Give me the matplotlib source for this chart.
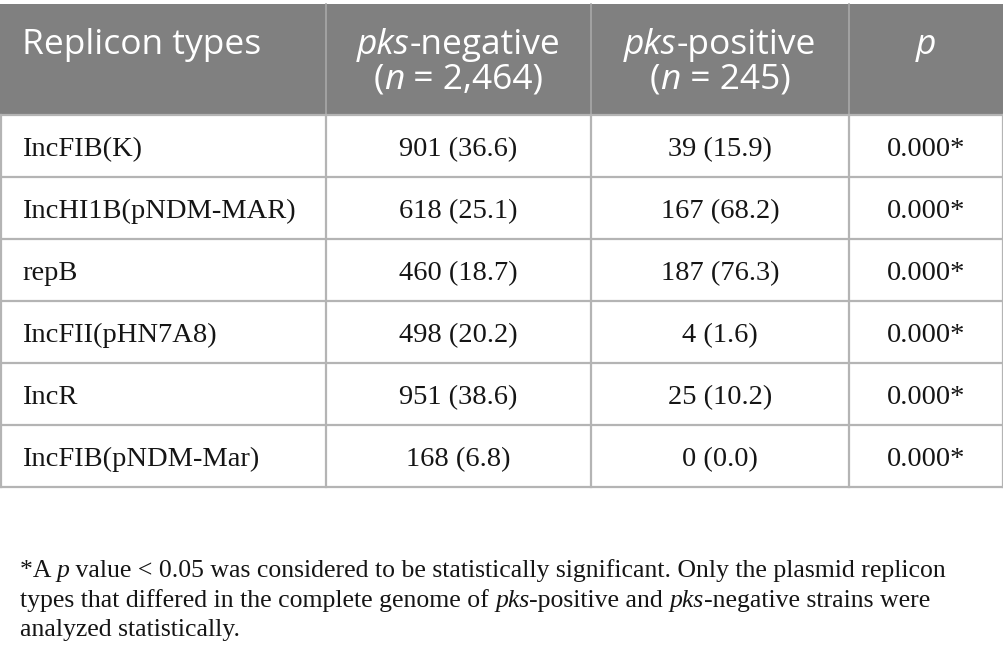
import matplotlib
matplotlib.use("Agg")
import matplotlib.pyplot as plt

# ---- data ----
header_col0 = "Replicon types"
header_groups = [
    [[("pks", "italic"), ("-negative", "normal")], [("(", "normal"), ("n", "italic"), (" = 2,464)", "normal")]],
    [[("pks", "italic"), ("-positive", "normal")], [("(", "normal"), ("n", "italic"), (" = 245)", "normal")]],
    [[("p", "italic")]],
]
replicons = ["IncFIB(K)", "IncHI1B(pNDM-MAR)", "repB", "IncFII(pHN7A8)", "IncR", "IncFIB(pNDM-Mar)"]
neg_counts = [901, 618, 460, 498, 951, 168]
neg_pct = [36.6, 25.1, 18.7, 20.2, 38.6, 6.8]
pos_counts = [39, 167, 187, 4, 25, 0]
pos_pct = [15.9, 68.2, 76.3, 1.6, 10.2, 0.0]
p_values = ["0.000*"] * 6
footnote = [
    [("*A ", "normal"), ("p", "italic"), (" value < 0.05 was considered to be statistically significant. Only the plasmid replicon", "normal")],
    [("types that differed in the complete genome of ", "normal"), ("pks", "italic"), ("-positive and ", "normal"),
     ("pks", "italic"), ("-negative strains were", "normal")],
    [("analyzed statistically.", "normal")],
]

W, H = 1004, 664
DPI = 100
fig = plt.figure(figsize=(W / DPI, H / DPI), dpi=DPI)
ax = fig.add_axes([0, 0, 1, 1])
ax.set_xlim(0, W)
ax.set_ylim(H, 0)
ax.axis("off")

SANS = "Open Sans"
SERIF = "Liberation Serif"
HDR_SIZE = 25.5
BODY_SIZE = 20.5
FOOT_SIZE = 18.5

col_edges = [1, 326, 591, 849, 1003]
hdr_top, hdr_bot = 4, 115
row_h = 62
n_rows = len(replicons)
line_col = "#b4b4b4"
hdr_col = "#808080"

# header background
ax.add_patch(plt.Rectangle((0, hdr_top), W, hdr_bot - hdr_top, color=hdr_col, lw=0, zorder=0))
for x in col_edges[1:-1]:
    ax.plot([x, x], [hdr_top, hdr_bot], color="#a8a8a8", lw=1.2, zorder=1)

# body grid
body_bot = hdr_bot + row_h * n_rows
for i in range(n_rows + 1):
    y = hdr_bot + row_h * i
    ax.plot([0, W], [y, y], color=line_col, lw=1.6, zorder=1)
for x in col_edges:
    ax.plot([x, x], [hdr_bot, body_bot], color=line_col, lw=1.6, zorder=1)

fig.canvas.draw()
renderer = fig.canvas.get_renderer()


def seg_text(x, y, segs, family, size, color, ha="left"):
    """Draw a sequence of (text, style) segments on one baseline."""
    widths = []
    temps = []
    for s, st in segs:
        t = ax.text(0, 0, s, family=family, style=st, fontsize=size, color=color, va="baseline", ha="left")
        bb = t.get_window_extent(renderer=renderer)
        widths.append(bb.width)
        temps.append(t)
    total = sum(widths)
    x0 = x - total / 2 if ha == "center" else x
    cx = x0
    for t, w in zip(temps, widths):
        t.set_position((cx, y))
        cx += w


# header text
hdr_base = [54, 89]
ax.text(22, hdr_base[0], header_col0, family=SANS, fontsize=HDR_SIZE, color="white", va="baseline", ha="left")
for ci, lines in enumerate(header_groups):
    cxm = (col_edges[ci + 1] + col_edges[ci + 2]) / 2
    for li, segs in enumerate(lines):
        seg_text(cxm, hdr_base[li], segs, SANS, HDR_SIZE, "white", ha="center")

# body text
for i in range(n_rows):
    yb = 156 + row_h * i
    ax.text(22, yb, replicons[i], family=SERIF, fontsize=BODY_SIZE, color="#151515", va="baseline", ha="left")
    vals = [f"{neg_counts[i]} ({neg_pct[i]:.1f})", f"{pos_counts[i]} ({pos_pct[i]:.1f})", p_values[i]]
    for ci, v in enumerate(vals):
        cxm = (col_edges[ci + 1] + col_edges[ci + 2]) / 2
        ax.text(cxm, yb, v, family=SERIF, fontsize=BODY_SIZE, color="#151515", va="baseline", ha="center")

# footnote
for li, segs in enumerate(footnote):
    seg_text(20, 577 + 29.5 * li, segs, SERIF, FOOT_SIZE, "#151515", ha="left")

fig.savefig("out.png", dpi=DPI)
